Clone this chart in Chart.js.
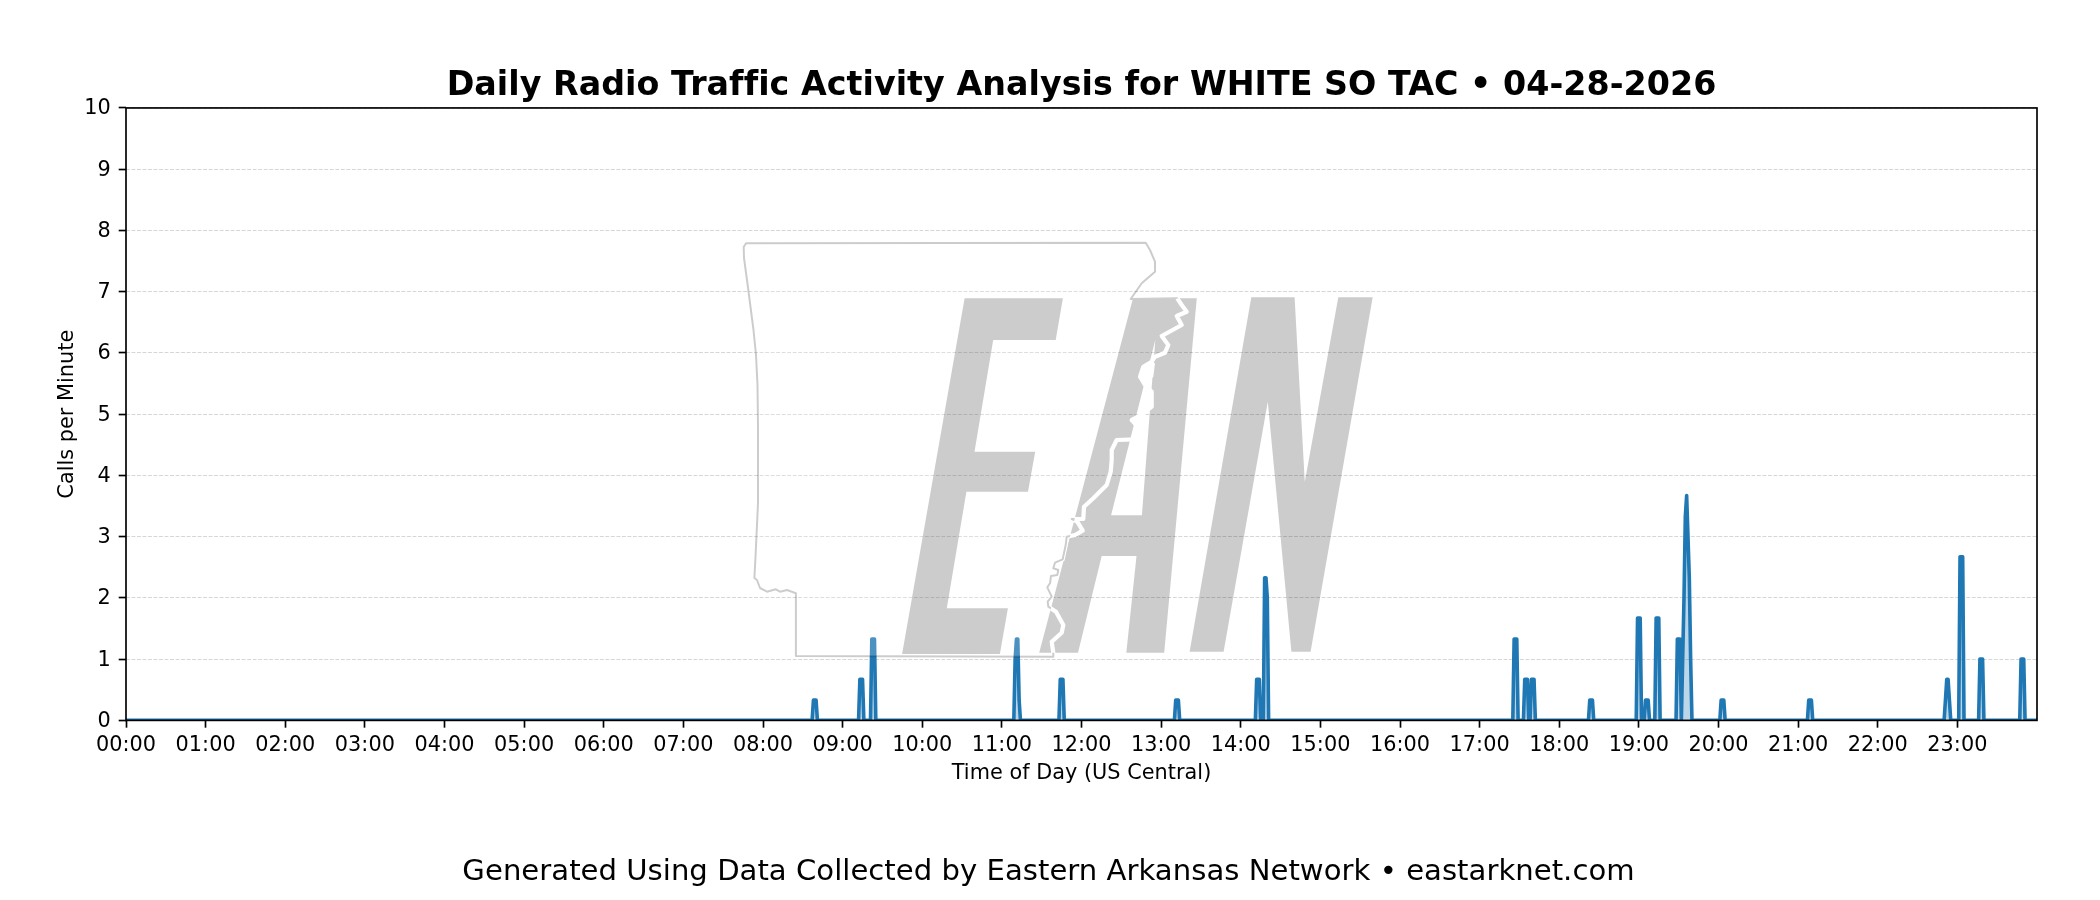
<!DOCTYPE html>
<html>
<head>
<meta charset="utf-8">
<style>html,body{margin:0;padding:0;background:#fff}canvas{display:block}</style>
<script src="https://cdn.jsdelivr.net/npm/chart.js@4"></script>
</head>
<body>
<canvas id="c" width="2100" height="900"></canvas>
<script>
const chartTitle = 'Daily Radio Traffic Activity Analysis for WHITE SO TAC \u2022 04-28-2026';
const footerText = 'Generated Using Data Collected by Eastern Arkansas Network \u2022 eastarknet.com';
const xAxisTitle = 'Time of Day (US Central)';
const yAxisTitle = 'Calls per Minute';
const hourLabels = ['00:00','01:00','02:00','03:00','04:00','05:00','06:00','07:00','08:00','09:00','10:00','11:00','12:00','13:00','14:00','15:00','16:00','17:00','18:00','19:00','20:00','21:00','22:00','23:00'];

// minute of day for each reading (quiet stretches between bursts read as zero)
const minutes = [0,
 517,518,519,520,521,
 552,553,554,555,556,
 561,562,563,564,565,
 669,670,671,672,673,674,
 703,704,705,706,707,
 790,791,792,793,794,
 851,852,853,854,855,
 857,858,859,860,861,
 1045,1046,1047,1048,1049,
 1053,1054,1055,1056,1057,
 1058,1059,1060,1061,1062,
 1102,1103,1104,1105,1106,
 1138,1139,1140,1141,1142,
 1144,1145,1146,1147,1148,
 1152,1153,1154,1155,1156,
 1168,1169,1170,1171,1172,
 1173,1174,1175,1176,1177,1178,1179,1180,
 1201,1202,1203,1204,1205,
 1267,1268,1269,1270,1271,
 1370,1371,1372,1373,1374,1375,
 1381,1382,1383,1384,1385,
 1396,1397,1398,1399,1400,
 1427,1428,1429,1430,1431,
 1440];
const callsPerMinute = [0,
 0,0.33,0.33,0.33,0,
 0,0.67,0.67,0.67,0,
 0,1.33,1.33,1.33,0,
 0,1,1.33,1.33,0.33,0,
 0,0.67,0.67,0.67,0,
 0,0.33,0.33,0.33,0,
 0,0.67,0.67,0.67,0,
 0,2.33,2.33,2,0,
 0,1.33,1.33,1.33,0,
 0,0.67,0.67,0.67,0,
 0,0.67,0.67,0.67,0,
 0,0.33,0.33,0.33,0,
 0,1.67,1.67,1.67,0,
 0,0.33,0.33,0.33,0,
 0,1.67,1.67,1.67,0,
 0,1.33,1.33,1.33,0,
 1,2,3.33,3.67,3,2.33,1,0,
 0,0.33,0.33,0.33,0,
 0,0.33,0.33,0.33,0,
 0,0.33,0.67,0.67,0.33,0,
 0,2.67,2.67,2.67,0,
 0,1,1,1,0,
 0,1,1,1,0,
 0];

const FONT = '"DejaVu Sans"';

const noLigatures = {
  id: 'noLigatures',
  beforeDraw(chart) { chart.ctx.letterSpacing = '0.03px'; }
};

const watermark = {
  id: 'watermark',
  afterDatasetsDraw(chart) {
    const ctx = chart.ctx;
    const E = [[964.6,298.3],[1062.9,298.3],[1055.7,340],[993.2,340],[974.5,451.7],[1035.2,451.7],[1028,491.7],[966.4,491.7],[946.8,608.3],[1007.9,608.3],[999.9,654],[902.1,654]];
    const A = [[1133,298.3],[1196.8,298.3],[1164.2,652.7],[1126.3,652.7],[1136.5,556],[1101.7,556],[1078,652.7],[1039.2,652.7]];
    const Ahole = [[1155.3,340],[1141.9,515.3],[1111.1,515.3]];
    const N = [[1251.3,297.3],[1294.6,297.3],[1304.8,481.7],[1338.3,297.3],[1372.7,297.3],[1310.6,651.7],[1291.4,651.7],[1267.8,401.7],[1223.6,651.7],[1189.6,651.7]];
    const west = [[746,243.3],[743.7,247],[744,258],[747,280],[750,303],[753.5,330],[756,355],[757.5,385],[758,426.7],[758,503],[755.7,553],[754.4,578],[757,580],[760,588],[767,591.7],[775.8,589.3],[780,591.7],[787,590],[795.9,593.3],[795.9,656]];
    const river = [[1053.3,656.7],[1053.3,652.7],[1051.7,641.7],[1061.7,632.7],[1063.3,625],[1056,611.7],[1048.3,606.7],[1047.7,601.7],[1051.7,596.7],[1047.3,587.3],[1050,583.3],[1051,576],[1057.3,575],[1058.3,570],[1053.3,568.3],[1055,562.7],[1062.7,559.3],[1065.7,545],[1066.7,536.7],[1075,535],[1082.7,530.7],[1077.3,521.7],[1071.7,519],[1083.3,519],[1084,506.7],[1093.3,498.3],[1106.7,485],[1110.7,471.7],[1111.7,460],[1111.7,450],[1116.7,440],[1135,439.3],[1137.7,426.7],[1131.7,420],[1141.7,415],[1151.7,406.7],[1151.7,391.7],[1145,385],[1140,376.7],[1143.3,366.7],[1151.7,361.7],[1155,356.7],[1165,352.7],[1168.3,345],[1161.7,336],[1181.7,325],[1176.7,316],[1186.7,311.7],[1181.7,305],[1177.3,298.3]];
    const north = [[1130.7,299],[1141.7,283.3],[1155,271.7],[1155,261.7],[1150,250],[1145.7,242.7]];
    const blob = [[1151.7,361.7],[1141.7,368.3],[1139.3,376.7],[1145,383.3],[1153.3,376.7],[1155,363.3]];
    const poly = (pts, close) => {
      pts.forEach((p, i) => i ? ctx.lineTo(p[0], p[1]) : ctx.moveTo(p[0], p[1]));
      if (close) ctx.closePath();
    };
    const outline = west.concat(river, north);
    ctx.save();
    ctx.lineJoin = 'round';
    ctx.beginPath(); poly(outline, true);
    ctx.fillStyle = 'rgba(255,255,255,0.2)'; ctx.fill();

    ctx.beginPath(); poly(E, true); poly(A, true); poly(Ahole, true); poly(N, true);
    ctx.fillStyle = 'rgba(0,0,0,0.2)'; ctx.fill('evenodd');

    ctx.beginPath(); poly(river, false);
    ctx.strokeStyle = '#fff'; ctx.lineWidth = 4.2; ctx.stroke();
    ctx.beginPath(); poly(blob, true); ctx.fillStyle = '#fff'; ctx.fill();

    // thin outline shows only off the letters
    ctx.save();
    ctx.beginPath(); ctx.rect(0, 0, 2100, 900);
    poly(E, true); poly(A, true); poly(N, true);
    ctx.clip('evenodd');
    ctx.beginPath(); poly(outline, true);
    ctx.strokeStyle = 'rgba(0,0,0,0.2)'; ctx.lineWidth = 2; ctx.stroke();
    ctx.restore();

    ctx.restore();
  }
};

const spines = {
  id: 'spines',
  afterDraw(chart) {
    const a = chart.chartArea, ctx = chart.ctx;
    ctx.save();
    ctx.strokeStyle = '#000';
    ctx.lineWidth = 1.67;
    ctx.strokeRect(a.left, a.top, a.right - a.left, a.bottom - a.top);
    ctx.restore();
  }
};

new Chart(document.getElementById('c'), {
  type: 'line',
  data: {
    datasets: [{
      data: minutes.map((m, i) => ({ x: m, y: callsPerMinute[i] })),
      borderColor: '#1f77b4',
      borderWidth: 3.6,
      borderJoinStyle: 'round',
      backgroundColor: 'rgba(31,119,180,0.3)',
      fill: 'origin',
      pointRadius: 0,
      tension: 0
    }]
  },
  plugins: [noLigatures, watermark, spines],
  options: {
    responsive: false,
    animation: false,
    devicePixelRatio: 1,
    layout: { padding: { left: 0, right: 3, top: 0, bottom: 0 } },
    plugins: {
      legend: { display: false },
      tooltip: { enabled: false },
      title: {
        display: true, text: chartTitle, fullSize: false, color: '#000',
        font: { family: FONT, size: 33.3, weight: 'bold', lineHeight: 1.2 },
        padding: { top: 66, bottom: 2 }
      },
      subtitle: {
        display: true, text: footerText, position: 'bottom', color: '#000',
        font: { family: FONT, size: 29.1, weight: 'normal', lineHeight: 1.2 },
        padding: { top: 0, bottom: 10.4 }
      }
    },
    scales: {
      x: {
        type: 'linear', min: 0, max: 1440,
        afterBuildTicks(s) { s.ticks = hourLabels.map((_, i) => ({ value: i * 60 })); },
        afterFit(s) { s.height = 134.3; },
        border: { display: false },
        grid: { drawOnChartArea: false, drawTicks: true, tickLength: 7.3, tickWidth: 1.67, tickColor: '#000' },
        ticks: {
          autoSkip: false, maxRotation: 0, minRotation: 0,
          color: '#000', padding: 5, font: { family: FONT, size: 20.8 },
          callback: (v) => hourLabels[v / 60]
        },
        title: {
          display: true, text: xAxisTitle, color: '#000',
          font: { family: FONT, size: 20.8 }, padding: { top: 0, bottom: 68.7 }
        }
      },
      y: {
        min: 0, max: 10,
        afterFit(s) { s.width = 126; },
        border: { display: false, dash: [3.85, 1.66] },
        grid: { color: '#d6d6d6', lineWidth: 1.04, tickLength: 7.3, tickWidth: 1.67, tickColor: '#000' },
        ticks: {
          stepSize: 1, color: '#000', padding: 8, labelOffset: 1, font: { family: FONT, size: 20.8 }
        },
        title: {
          display: true, text: yAxisTitle, color: '#000',
          font: { family: FONT, size: 20.8 }, padding: { top: 55.5, bottom: 0 }
        }
      },
      rightMargin: {
        position: 'right', axis: 'y', display: true,
        afterFit(s) { s.width = 60; },
        border: { display: false },
        grid: { display: false },
        ticks: { display: false }
      }
    }
  }
});
</script>
</body>
</html>
